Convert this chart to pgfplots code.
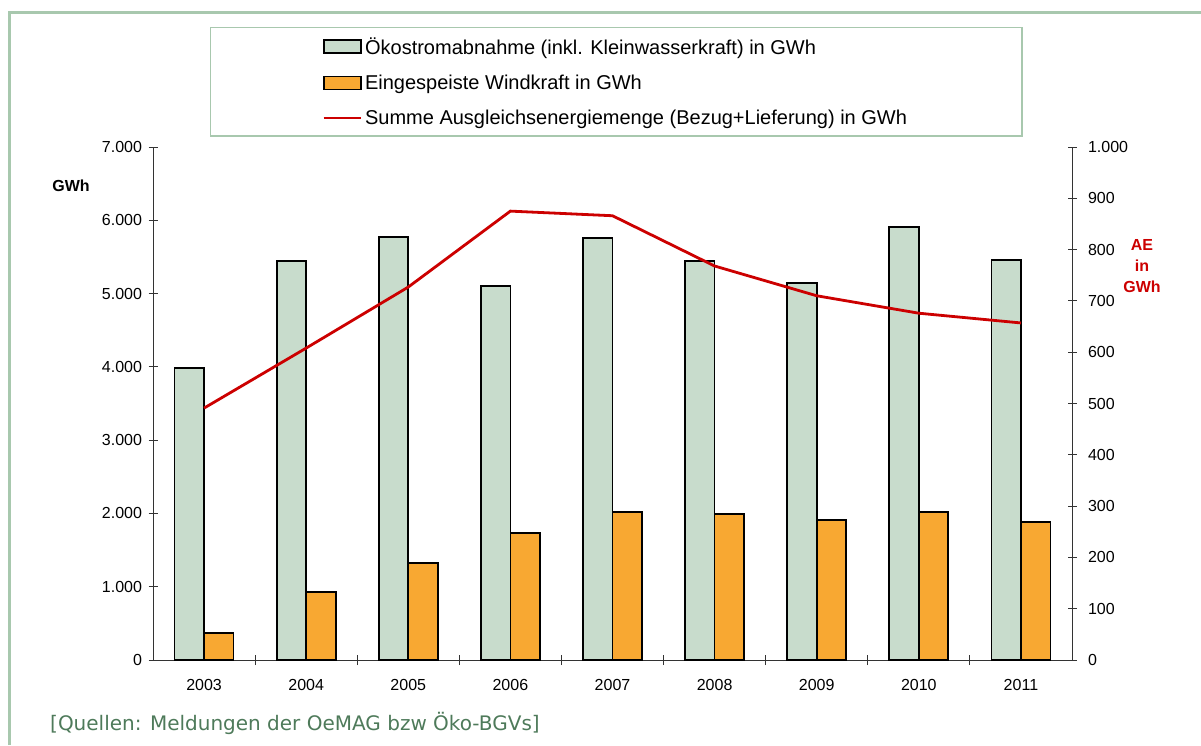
\documentclass[border=0pt]{standalone}
\usepackage{pgfplots}
\pgfplotsset{compat=1.18}
\usepackage{fontspec}
\setmainfont{Liberation Sans}
\newfontfamily\verdana{DejaVu Sans}
\definecolor{gfill}{HTML}{C8DCCC}
\definecolor{ofill}{HTML}{F8A832}
\definecolor{aered}{HTML}{CC0000}
\definecolor{framec}{HTML}{A8C8AE}
\definecolor{srcc}{HTML}{4E7A5A}
\definecolor{axc}{HTML}{333333}
\pgfplotsset{
  barleg/.style={legend image code/.code={\draw[##1] (0pt,-6.5pt) rectangle (37pt,6.5pt);}},
  lineleg/.style={legend image code/.code={\draw[##1] (0pt,0pt) -- (37pt,0pt);}},
}
\begin{document}
\begin{tikzpicture}[x=1pt,y=1pt]
\path[use as bounding box] (0,0) rectangle (1201,745);
\draw[framec, line width=3pt] (9,0) -- (9,732) -- (1201,732);
\begin{axis}[
  at={(153pt,85pt)}, anchor=south west, scale only axis,
  width=919pt, height=513pt,
  xmin=-0.5, xmax=8.5, ymin=0, ymax=7000,
  ybar=0pt, bar width=29.5pt,
  axis x line*=bottom, axis y line*=left,
  axis line style={line width=0.9pt, axc},
  tick align=center, major tick length=9pt, minor tick length=10pt,
  tick style={line width=0.9pt, axc},
  xtick={0,...,8},
  xticklabels={2003,2004,2005,2006,2007,2008,2009,2010,2011},
  major x tick style={draw=none},
  minor xtick={0.5,1.5,...,7.5},
  ytick={0,1000,...,7000},
  scaled y ticks=false,
  /pgf/number format/.cd, 1000 sep={.}, assume math mode=true, /pgfplots/.cd,
  ticklabel style={font=\fontsize{16}{19}\selectfont},
  xticklabel style={yshift=-11pt},
  yticklabel style={xshift=-3pt},
  legend style={at={(0.504,1.234)}, anchor=north, draw=framec, line width=1.5pt,
    inner xsep=112pt, inner ysep=8pt, row sep=15pt,
    font=\fontsize{20}{23}\selectfont, legend cell align=left,
    nodes={inner xsep=3pt}},
]
\addplot[fill=gfill, draw=black, line width=1.7pt, barleg]
  coordinates {(0,3985) (1,5440) (2,5770) (3,5100) (4,5755) (5,5440) (6,5145) (7,5905) (8,5455)};
\addlegendentry{Ökostromabnahme (inkl. Kleinwasserkraft) in GWh}
\addplot[fill=ofill, draw=black, line width=1.7pt, barleg]
  coordinates {(0,370) (1,928) (2,1323) (3,1733) (4,2019) (5,1992) (6,1910) (7,2019) (8,1883)};
\addlegendentry{Eingespeiste Windkraft in GWh}
\addlegendimage{aered, line width=2.8pt, lineleg}
\addlegendentry{Summe Ausgleichsenergiemenge (Bezug+Lieferung) in GWh}
\end{axis}
\begin{axis}[
  at={(153pt,85pt)}, anchor=south west, scale only axis,
  width=919pt, height=513pt,
  xmin=-0.5, xmax=8.5, ymin=0, ymax=1000,
  axis y line*=right, axis x line=none,
  axis line style={line width=0.9pt, axc},
  tick align=center, major tick length=9pt,
  tick style={line width=0.9pt, axc},
  ytick={0,100,...,1000},
  scaled y ticks=false,
  /pgf/number format/.cd, 1000 sep={.}, assume math mode=true, /pgfplots/.cd,
  ticklabel style={font=\fontsize{16}{19}\selectfont},
  yticklabel style={xshift=8pt},
]
\addplot[aered, line width=2.8pt, mark=none]
  coordinates {(0,491) (1,608) (2,727) (3,875) (4,866) (5,768) (6,710) (7,676) (8,657)};
\end{axis}
\node[font=\bfseries\fontsize{16}{18}\selectfont] at (71,559) {GWh};
\node[text=aered, font=\bfseries\fontsize{16}{21}\selectfont, align=center] at (1142,479) {AE\\in\\GWh};
\node[anchor=base west, text=srcc, font=\verdana\fontsize{20}{24}\selectfont, inner sep=0pt] at (50,15) {[Quellen: Meldungen der OeMAG bzw Öko-BGVs]};
\end{tikzpicture}
\end{document}
